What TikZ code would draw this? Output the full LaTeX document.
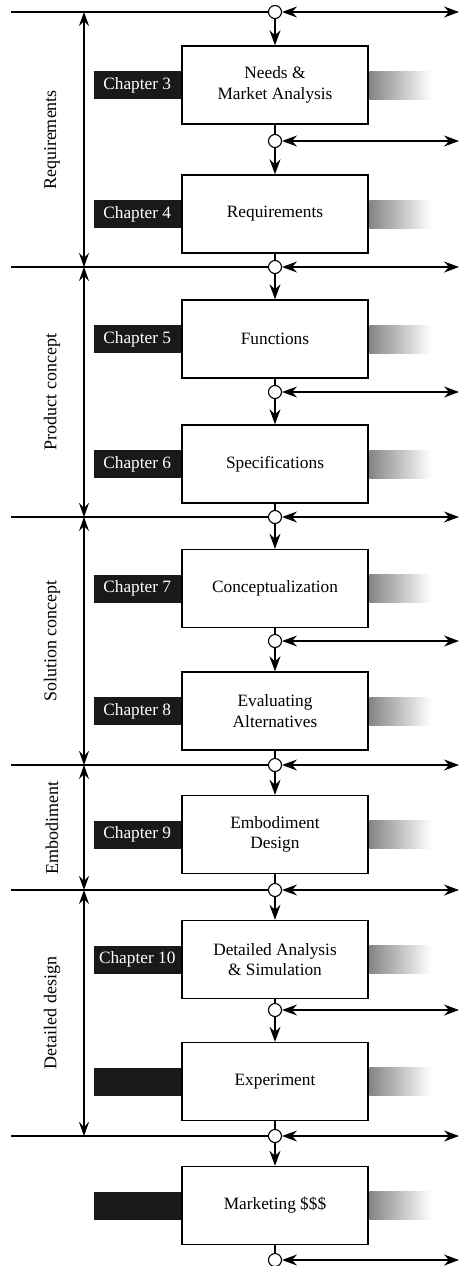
\documentclass[tikz,border=0pt]{standalone}
\usepackage{fontspec}
\setmainfont{Liberation Serif}
\usetikzlibrary{arrows.meta}
\newcommand{\stagefont}{\fontsize{17.3}{20.5}\selectfont}
\newcommand{\phasefont}{\fontsize{18}{20}\selectfont}
\begin{document}
\begin{tikzpicture}[x=1pt,y=-1pt,
  >={Stealth[length=15pt,width=11pt,inset=5pt]},
  line width=1.2pt,
  stage/.style={draw, line width=1.4pt, fill=white, minimum width=186pt,
    minimum height=78pt, align=center, font=\stagefont, inner sep=0pt},
  chap/.style={fill=black!90, text=white, minimum width=87pt,
    minimum height=28pt, inner sep=0pt, font=\stagefont, anchor=east},
  fade/.style={left color=black!48, right color=white, draw=none,
    minimum width=62pt, minimum height=28pt, inner sep=0pt, anchor=west},
  junc/.style={circle, draw, fill=white, line width=1.1pt,
    minimum size=13pt, inner sep=0pt},
  phase/.style={rotate=90, font=\phasefont, inner sep=0pt},
  flow/.style={->, line width=1.2pt},
  gate/.style={<->, line width=1.2pt},
  span/.style={<->, line width=1.2pt, >={Stealth[length=14pt,width=10pt,inset=5pt]}}
]
\useasboundingbox (0,0) rectangle (460,1266);

% stage boxes
\node[stage] (b1)  at (275,85)     {Needs \&\\Market Analysis};
\node[stage] (b2)  at (275,214)    {Requirements};
\node[stage] (b3)  at (275,339)    {Functions};
\node[stage] (b4)  at (275,464)    {Specifications};
\node[stage] (b5)  at (275,588.5)  {Conceptualization};
\node[stage] (b6)  at (275,711)    {Evaluating\\Alternatives};
\node[stage] (b7)  at (275,834.5)  {Embodiment\\Design};
\node[stage] (b8)  at (275,959.5)  {Detailed Analysis\\\& Simulation};
\node[stage] (b9)  at (275,1081.5) {Experiment};
\node[stage] (b10) at (275,1205.5) {Marketing \$\$\$};

% chapter tabs on the left, grey fades on the right
\node[chap] (c1)  at (b1.west)  {Chapter 3};
\node[chap] (c2)  at (b2.west)  {Chapter 4};
\node[chap] (c3)  at (b3.west)  {Chapter 5};
\node[chap] (c4)  at (b4.west)  {Chapter 6};
\node[chap] (c5)  at (b5.west)  {Chapter 7};
\node[chap] (c6)  at (b6.west)  {Chapter 8};
\node[chap] (c7)  at (b7.west)  {Chapter 9};
\node[chap] (c8)  at (b8.west)  {Chapter 10};
\node[chap] (c9)  at (b9.west)  {};
\node[chap] (c10) at (b10.west) {};
\foreach \b in {b1,b2,b3,b4,b5,b6,b7,b8,b9,b10}
  \node[fade] (f\b) at (\b.east) {};

% junctions
\node[junc] (j0)  at (275,12)   {};
\node[junc] (j1)  at (275,141)  {};
\node[junc] (j2)  at (275,267)  {};
\node[junc] (j3)  at (275,392)  {};
\node[junc] (j4)  at (275,517)  {};
\node[junc] (j5)  at (275,641)  {};
\node[junc] (j6)  at (275,765)  {};
\node[junc] (j7)  at (275,890)  {};
\node[junc] (j8)  at (275,1010) {};
\node[junc] (j9)  at (275,1136) {};
\node[junc] (j10) at (275,1260) {};

% flow down through the stages
\draw[flow] (j0) -- (b1.north);
\draw (b1.south) -- (j1);  \draw[flow] (j1) -- (b2.north);
\draw (b2.south) -- (j2);  \draw[flow] (j2) -- (b3.north);
\draw (b3.south) -- (j3);  \draw[flow] (j3) -- (b4.north);
\draw (b4.south) -- (j4);  \draw[flow] (j4) -- (b5.north);
\draw (b5.south) -- (j5);  \draw[flow] (j5) -- (b6.north);
\draw (b6.south) -- (j6);  \draw[flow] (j6) -- (b7.north);
\draw (b7.south) -- (j7);  \draw[flow] (j7) -- (b8.north);
\draw (b8.south) -- (j8);  \draw[flow] (j8) -- (b9.north);
\draw (b9.south) -- (j9);  \draw[flow] (j9) -- (b10.north);
\draw (b10.south) -- (j10);

% exchanges to the right of every junction
\foreach \j/\y in {0/12,1/141,2/267,3/392,4/517,5/641,6/765,7/890,8/1010,9/1136,10/1260} {
  \coordinate (r\j) at (459,\y);
  \draw[gate] (j\j) -- (r\j);
}

% phase boundaries
\foreach \j/\y in {0/12,2/267,4/517,6/765,7/890,9/1136} {
  \coordinate (l\j) at (11,\y);
  \coordinate (p\j) at (84,\y);
  \draw (l\j) -- (j\j);
}

% phase spans
\draw[span] (p0) -- (p2);
\draw[span] (p2) -- (p4);
\draw[span] (p4) -- (p6);
\draw[span] (p6) -- (p7);
\draw[span] (p7) -- (p9);

\node[phase] (t1) at (52,140)  {Requirements};
\node[phase] (t2) at (52,392)  {Product concept};
\node[phase] (t3) at (52,641)  {Solution concept};
\node[phase] (t4) at (52,828)  {Embodiment};
\node[phase] (t5) at (52,1013) {Detailed design};
\end{tikzpicture}
\end{document}
